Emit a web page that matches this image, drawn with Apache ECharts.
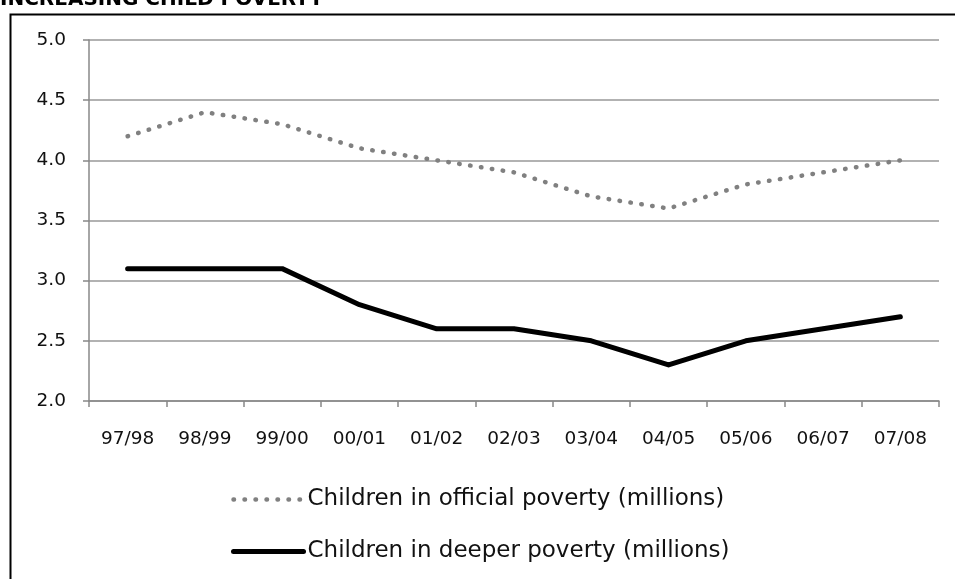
<!DOCTYPE html>
<html>
<head>
<meta charset="utf-8">
<script src="https://cdn.jsdelivr.net/npm/echarts@6/dist/echarts.min.js"></script>
<style>html,body{margin:0;padding:0;background:#fff;}#c{width:955px;height:579px;}</style>
</head>
<body>
<div id="c"></div>
<script>
const categories = ['97/98','98/99','99/00','00/01','01/02','02/03','03/04','04/05','05/06','06/07','07/08'];
const officialPoverty = [4.2, 4.4, 4.3, 4.1, 4.0, 3.9, 3.7, 3.6, 3.8, 3.9, 4.0];
const deeperPoverty = [3.1, 3.1, 3.1, 2.8, 2.6, 2.6, 2.5, 2.3, 2.5, 2.6, 2.7];
const seriesNames = ['Children in official poverty (millions)', 'Children in deeper poverty (millions)'];
const titleText = 'INCREASING CHILD POVERTY';

const FONT = 'DejaVu Sans';
const dottedStyle = {color: '#808080', width: 4.5, type: [0.5, 10.5], cap: 'round'};
const solidStyle = {color: '#000', width: 5, cap: 'round', join: 'round'};
const chart = echarts.init(document.getElementById('c'), null, {renderer: 'canvas'});
chart.setOption({
  animation: false,
  backgroundColor: '#fff',
  textStyle: {fontFamily: FONT},
  graphic: [
    {type: 'rect', left: 8, top: 12, shape: {width: 1000, height: 700}, style: {fill: 'none', stroke: '#000', lineWidth: 2}, z: -1},
    {type: 'text', left: 0, top: -10, style: {text: titleText, font: 'bold 20px "DejaVu Sans"', fill: '#000'}}
  ],
  grid: {left: 89, right: 16, top: 40, bottom: 178, containLabel: false},
  xAxis: {
    type: 'category',
    data: categories,
    boundaryGap: true,
    axisLine: {lineStyle: {color: '#888', width: 1.5}},
    axisTick: {show: true, length: 6, lineStyle: {color: '#888', width: 1.5}},
    axisLabel: {color: '#111', fontSize: 18.5, margin: 29, fontFamily: FONT}
  },
  yAxis: {
    type: 'value',
    min: 2.0, max: 5.0, interval: 0.5,
    axisLine: {show: true, lineStyle: {color: '#888', width: 1.5}},
    axisTick: {show: true, length: 6, lineStyle: {color: '#888', width: 1.5}},
    axisLabel: {color: '#111', fontSize: 18.5, margin: 23, fontFamily: FONT, formatter: v => v.toFixed(1)},
    splitLine: {lineStyle: {color: '#999', width: 1.5}}
  },
  legend: {
    orient: 'vertical',
    left: 226, top: 483,
    itemWidth: 70, itemHeight: 14, itemGap: 29,
    itemStyle: {opacity: 0},
    textStyle: {fontSize: 23, color: '#111', fontFamily: FONT, padding: [0,0,0,-1]},
    data: [
      {name: seriesNames[0], lineStyle: dottedStyle},
      {name: seriesNames[1], lineStyle: solidStyle}
    ]
  },
  series: [
    {
      name: seriesNames[0], type: 'line', data: officialPoverty, symbol: 'none',
      lineStyle: dottedStyle, itemStyle: {color: '#808080'}
    },
    {
      name: seriesNames[1], type: 'line', data: deeperPoverty, symbol: 'none',
      lineStyle: solidStyle, itemStyle: {color: '#000'}
    }
  ]
});
</script>
</body>
</html>
